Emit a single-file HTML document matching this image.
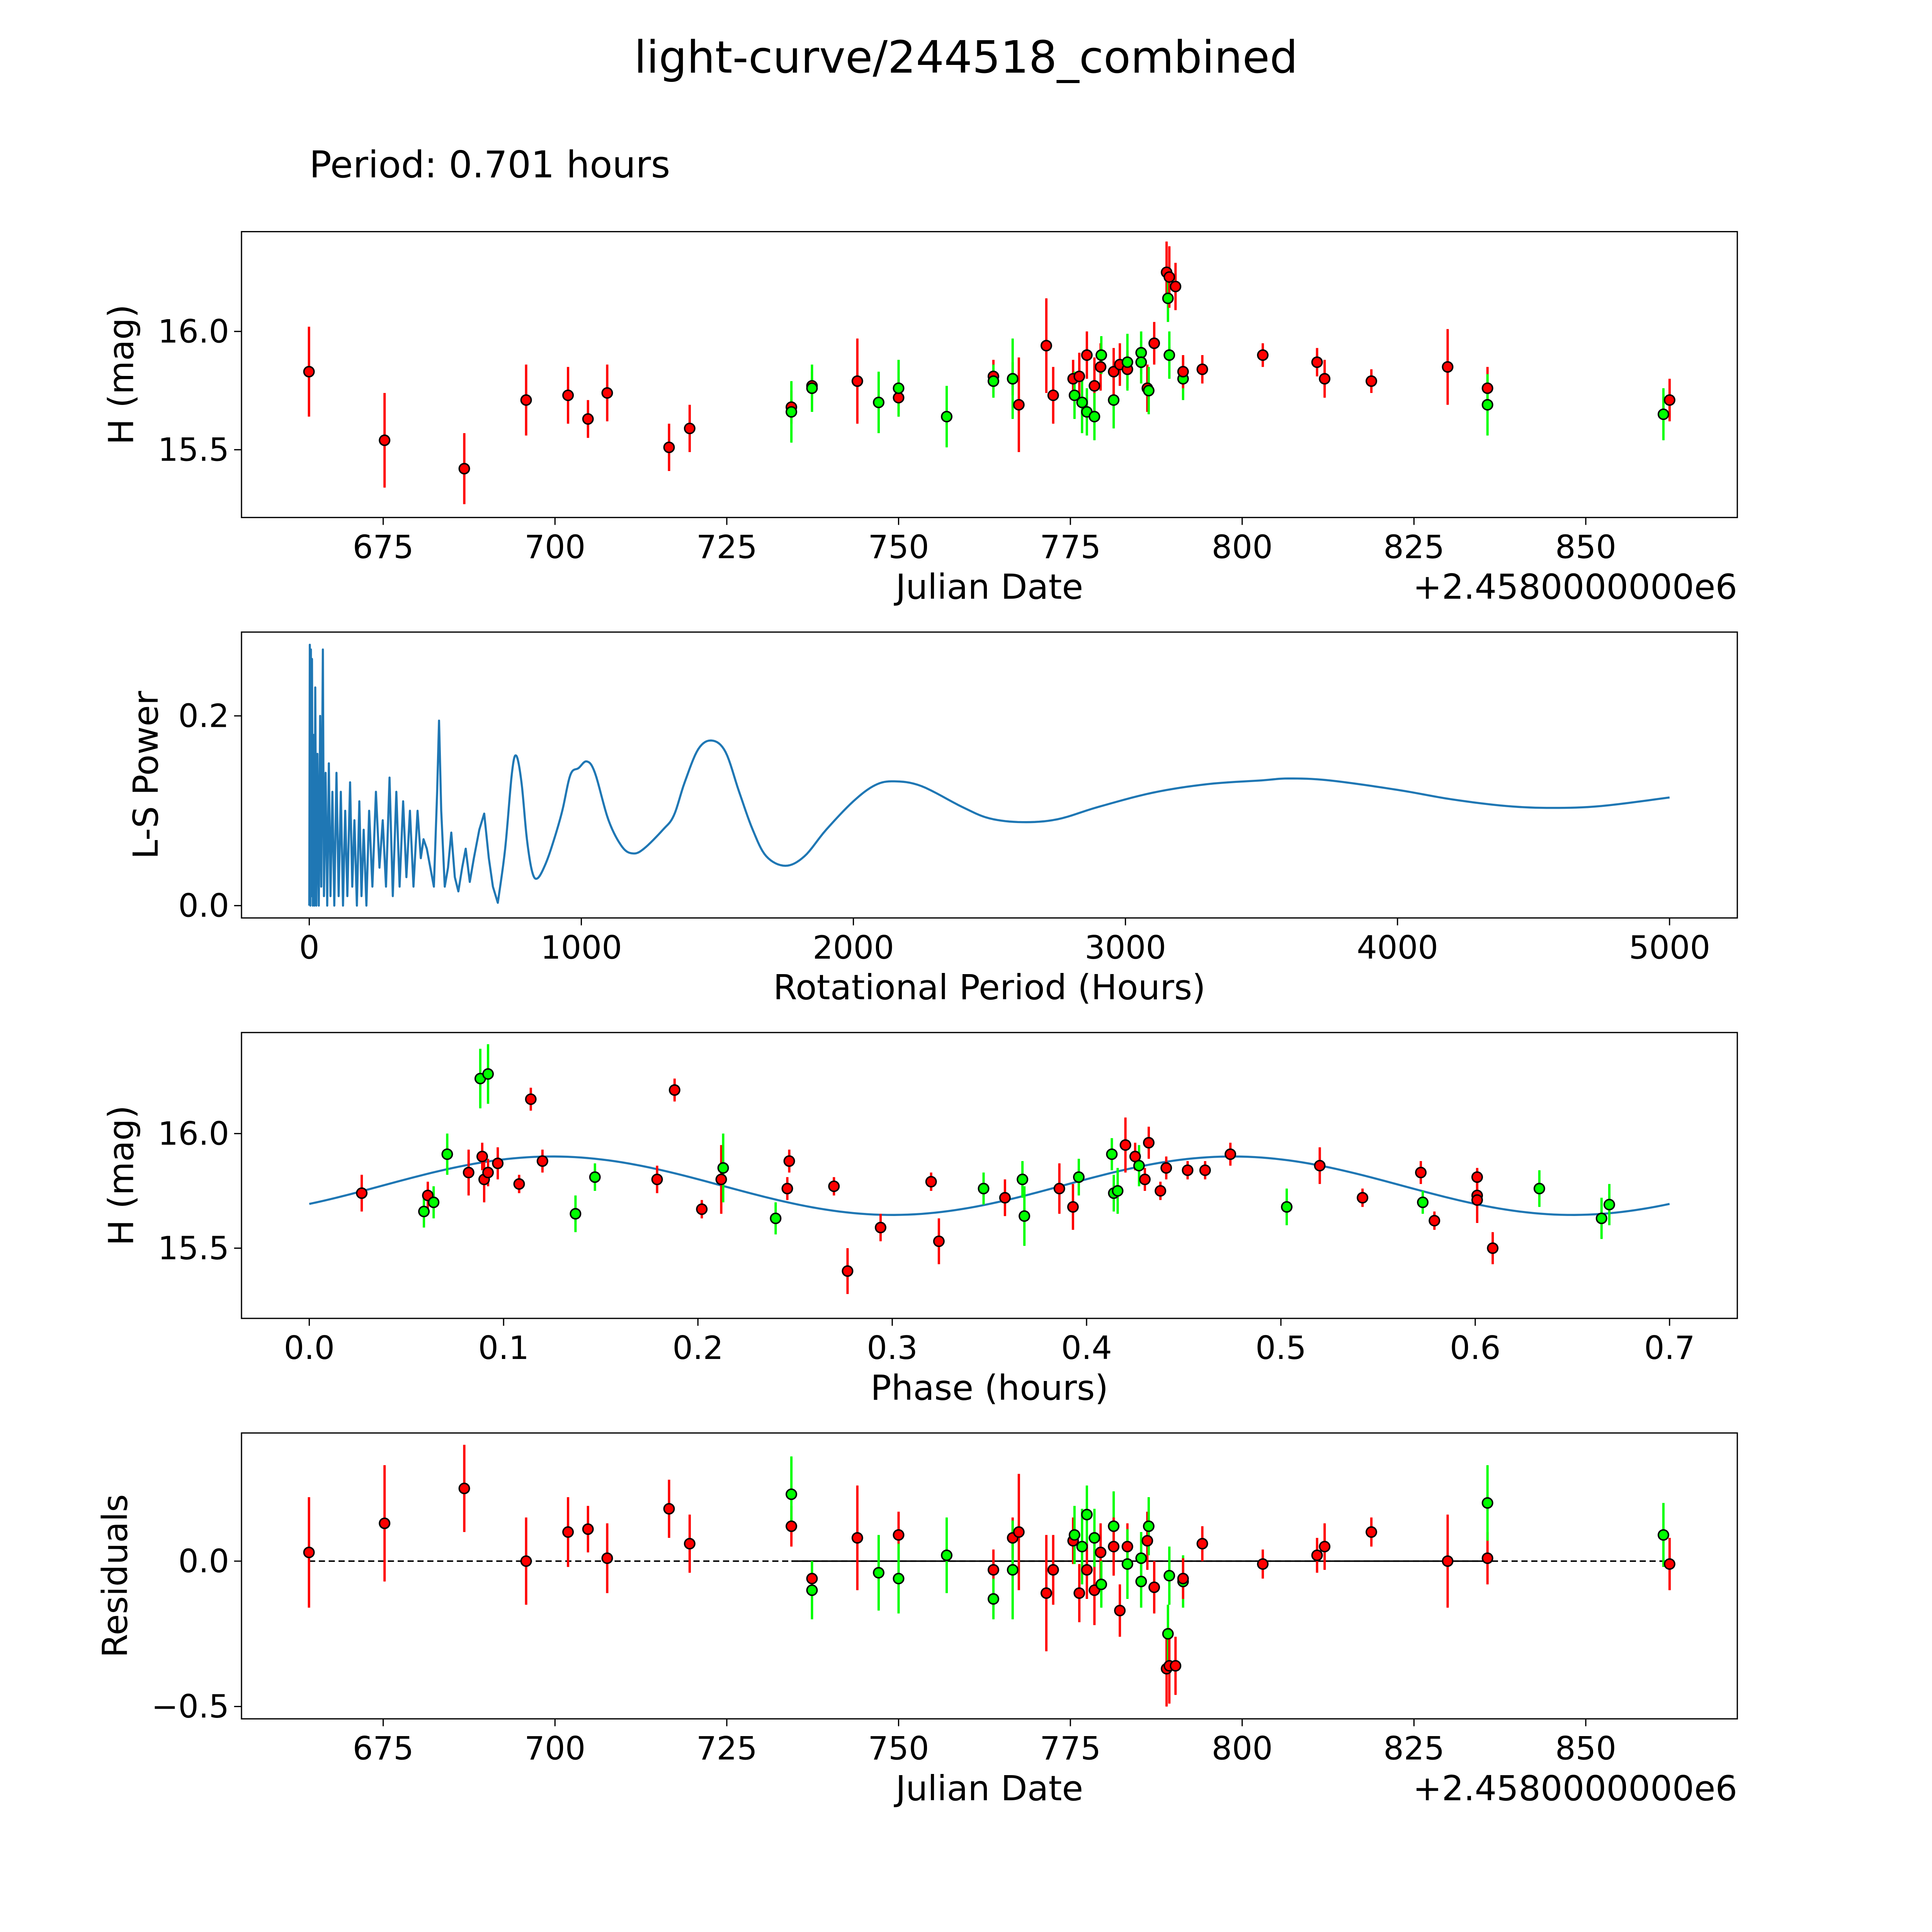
<!DOCTYPE html>
<html><head><meta charset="utf-8"><style>
html,body{margin:0;padding:0;background:#fff;overflow:hidden;width:100%;height:100%}
svg{display:block;width:100vw;height:100vh}
text{font-family:"DejaVu Sans","Liberation Sans",sans-serif;fill:#000}
</style></head><body>
<svg id="fig" xmlns="http://www.w3.org/2000/svg" viewBox="0 0 1568 1568" preserveAspectRatio="none">
<rect width="1568" height="1568" fill="#fff"/>
<text x="784" y="59" font-size="36" text-anchor="middle">light-curve/244518_combined</text>
<text x="251" y="144" font-size="30">Period: 0.701 hours</text>
<g id="g1"></g>
<g id="g2"></g>
<g id="g3"></g>
<g id="g4"></g>
</svg>
<script>
// ---- observation data ----
const dates=[664.2,675.2,686.8,695.8,701.9,704.8,707.6,716.6,719.6,734.4,734.4,737.4,737.4,744.0,747.1,750.0,750.0,757.0,763.8,763.8,766.6,766.6,767.5,771.5,772.5,775.4,775.6,776.3,776.7,777.4,777.4,778.5,778.5,779.4,779.5,781.3,781.3,782.2,783.3,783.3,785.3,785.3,786.2,786.4,787.2,789.0,789.2,789.4,789.4,790.3,791.4,791.4,794.2,803.0,810.9,812.0,818.8,829.9,835.7,835.7,861.3,862.2];
const mags=[15.83,15.54,15.42,15.71,15.73,15.63,15.74,15.51,15.59,15.68,15.66,15.77,15.76,15.79,15.70,15.72,15.76,15.64,15.81,15.79,15.80,15.80,15.69,15.94,15.73,15.80,15.73,15.81,15.70,15.90,15.66,15.77,15.64,15.85,15.90,15.71,15.83,15.86,15.84,15.87,15.91,15.87,15.76,15.75,15.95,16.25,16.14,16.23,15.90,16.19,15.80,15.83,15.84,15.90,15.87,15.80,15.79,15.85,15.76,15.69,15.65,15.71];
const errs=[.19,.20,.15,.15,.12,.08,.12,.10,.10,.07,.13,.06,.10,.18,.13,.08,.12,.13,.07,.07,.07,.17,.20,.20,.12,.08,.10,.10,.13,.10,.10,.12,.10,.10,.08,.12,.10,.09,.08,.12,.09,.09,.10,.10,.09,.13,.10,.13,.10,.10,.09,.07,.06,.05,.06,.08,.05,.16,.09,.13,.11,.09];
const colors="rrrrrrrrrrgrgrgrggrgrgrrrrgrgrgrgrggrrrgggrgrrgrgrgrrrrrrrrggr";
const resids=[.03,.13,.25,0,.10,.11,.01,.18,.06,.12,.23,-.06,-.10,.08,-.04,.09,-.06,.02,-.03,-.13,.08,-.03,.10,-.11,-.03,.07,.09,-.11,.05,-.03,.16,-.10,.08,.03,-.08,.12,.05,-.17,.05,-.01,-.07,.01,.07,.12,-.09,-.37,-.25,-.36,-.05,-.36,-.07,-.06,.06,-.01,.02,.05,.10,0,.01,.20,.09,-.01];
// ---- phase-folded data ----
const phases=[.027,.059,.061,.064,.071,.082,.088,.089,.090,.092,.092,.097,.108,.114,.120,.137,.147,.179,.188,.202,.212,.213,.240,.246,.247,.270,.277,.294,.320,.324,.347,.358,.367,.368,.386,.393,.396,.413,.414,.416,.420,.425,.427,.430,.432,.438,.441,.452,.461,.474,.503,.520,.542,.572,.573,.579,.601,.601,.601,.609,.633,.665,.669];
const phaseMags=[15.74,15.66,15.73,15.70,15.91,15.83,16.24,15.90,15.80,15.83,16.26,15.87,15.78,16.15,15.88,15.65,15.81,15.80,16.19,15.67,15.80,15.85,15.63,15.76,15.88,15.77,15.40,15.59,15.79,15.53,15.76,15.72,15.80,15.64,15.76,15.68,15.81,15.91,15.74,15.75,15.95,15.90,15.86,15.80,15.96,15.75,15.85,15.84,15.84,15.91,15.68,15.86,15.72,15.83,15.70,15.62,15.81,15.73,15.71,15.50,15.76,15.63,15.69];
const phaseErrs=[.08,.07,.06,.07,.09,.10,.13,.06,.10,.06,.13,.07,.04,.05,.05,.08,.06,.06,.05,.04,.15,.15,.07,.05,.05,.04,.10,.06,.04,.10,.07,.08,.08,.13,.11,.10,.08,.07,.08,.10,.12,.06,.09,.05,.07,.04,.05,.04,.04,.05,.08,.08,.04,.05,.05,.04,.04,.05,.10,.07,.08,.09,.09];
const phaseColors="rgrggrgrrrgrrrrggrrrrggrrrrrrrgrggrrggggrrgrrrrrrrgrrrgrrrrrggg";
const modelCoef=[15.7725,0.1275,0.35,0.0375]; // mean, amplitude, period(phase units), phase offset
// ---- periodogram ----
const lsPeriodsShort=[0,2,4,6,8,10,13,16,19,22,26,30,35,40,44,50,54,60,66,72,78,85,92,100,108,116,124,132,140,150,158,166,175,184,192,200,210,220,232,245,258,270,282,295,307,320,332,345,357,370,383,398,410,420,432,445,458,470,477,485,498,510,522,535,548,562,575,590,605,625,643,660,675,693];
const lsPowerShort=[0,.275,0,.27,.01,.26,0,.18,0,.23,0,.16,0,.2,.02,.27,.01,.14,0,.15,.01,.12,0,.14,.01,.12,0,.1,.01,.13,.02,.09,0,.11,.01,.08,0,.1,.02,.12,.04,.09,.02,.135,.01,.12,.02,.11,.03,.1,.02,.1,.05,.07,.06,.04,.02,.12,.195,.1,.02,.04,.077,.03,.015,.04,.06,.025,.05,.08,.097,.05,.02,.003];
const lsPeriodsLong=[693,720,745,761,780,800,820,840,870,900,930,960,990,1020,1050,1100,1150,1190,1230,1300,1340,1380,1430,1480,1530,1580,1630,1680,1750,1820,1900,2000,2080,2150,2250,2400,2500,2620,2750,2900,3100,3300,3500,3600,3750,4000,4200,4400,4570,4750,5000];
const lsPowerLong=[.003,.06,.14,.158,.13,.07,.035,.029,.045,.07,.10,.138,.145,.152,.14,.09,.062,.055,.06,.08,.095,.13,.165,.174,.162,.12,.08,.052,.042,.052,.08,.11,.127,.131,.126,.104,.092,.088,.091,.104,.119,.128,.132,.134,.132,.122,.112,.105,.103,.105,.114];
// ---- ticks ----
const dateTicks=[675,700,725,750,775,800,825,850];
const magTicks=[16.0,15.5];
const perTicks=[0,1000,2000,3000,4000,5000];
const powTicks=[0.0,0.2];
const phTicks=[0.0,0.1,0.2,0.3,0.4,0.5,0.6,0.7];
const resTicks=[0.0,-0.5];

const NS="http://www.w3.org/2000/svg";
function mk(parent,tag,attrs,txt){const e=document.createElementNS(NS,tag);for(const k in attrs)e.setAttribute(k,attrs[k]);if(txt!==undefined)e.textContent=txt;parent.appendChild(e);return e;}
function lin(d0,d1,p0,p1){return v=>p0+(v-d0)*(p1-p0)/(d1-d0);}
const L=196,R=1410;
const xDate=lin(675,850,311,1287);
const xPer=lin(0,5000,251,1355);
const xPh=lin(0,0.7,251,1355);
const y1=lin(16.0,15.5,269,365);
const y2=lin(0,0.2,735,581);
const y3=lin(16.0,15.5,920,1013);
const y4=lin(0,-0.5,1267,1385);
const COL={r:"#ff0000",g:"#00ff00"};

function frame(g,top,bot,xt,xs,xfmt,yt,ys,yfmt,xlabel,ylabel,ylx,offset){
  mk(g,'rect',{x:L,y:top,width:R-L,height:bot-top,fill:'none',stroke:'#000','stroke-width':1});
  xt.forEach(v=>{const x=xs(v);
    const t=mk(g,'line',{x1:x,x2:x,y1:bot,y2:bot+6,stroke:'#000','stroke-width':1});
    
    const l=mk(g,'text',{x:x,y:bot+33,'font-size':26,'text-anchor':'middle'},xfmt(v));
    });
  yt.forEach(v=>{const y=ys(v);
    const t=mk(g,'line',{x1:L-6,x2:L,y1:y,y2:y,stroke:'#000','stroke-width':1});
    
    const l=mk(g,'text',{x:L-10,y:y+9,'font-size':26,'text-anchor':'end'},yfmt(v));
    });
  const xl=mk(g,'text',{x:803,y:bot+66,'font-size':28,'text-anchor':'middle'},xlabel);
  
  const cy=(top+bot)/2;
  const yl=mk(g,'text',{x:ylx,y:cy,'font-size':28,'text-anchor':'middle',transform:`rotate(-90 ${ylx} ${cy})`},ylabel);
  
  if(offset){const o=mk(g,'text',{x:R,y:bot+66,'font-size':28,'text-anchor':'end'},'+2.4580000000e6');
    }
}
function points(g,xs,ys,xv,yv,ev,cv,name){
  const eg=mk(g,'g',{});
  for(let i=0;i<xv.length;i++){const x=xs(xv[i]);
    const b=mk(eg,'line',{x1:x,x2:x,y1:ys(yv[i]-ev[i]),y2:ys(yv[i]+ev[i]),stroke:COL[cv[i]],'stroke-width':1.9});
    }
  for(let i=0;i<xv.length;i++){
    const c=mk(g,'circle',{cx:xs(xv[i]),cy:ys(yv[i]),r:4.1,fill:COL[cv[i]],stroke:'#000','stroke-width':1.2});
    }
}
const f1=v=>v.toFixed(1), f0=v=>String(v), fneg=v=>(v<0?'\u2212'+Math.abs(v).toFixed(1):v.toFixed(1));

// Panel 1
const g1=document.getElementById('g1');
frame(g1,188,420,dateTicks,xDate,f0,magTicks,y1,f1,'Julian Date','H (mag)',108,true);
points(g1,xDate,y1,dates,mags,errs,colors,'observation-point');

// Panel 2
const g2=document.getElementById('g2');
frame(g2,513,745,perTicks,xPer,f0,powTicks,y2,f1,'Rotational Period (Hours)','L-S Power',128,false);
(function(){
  let d='';
  for(let i=0;i<lsPeriodsShort.length;i++){d+=(i?'L':'M')+xPer(lsPeriodsShort[i]).toFixed(2)+' '+y2(lsPowerShort[i]).toFixed(2);}
  const P=lsPeriodsLong,W=lsPowerLong,n=P.length;
  for(let i=0;i<n-1;i++){
    const p0=[P[Math.max(i-1,0)],W[Math.max(i-1,0)]],p1=[P[i],W[i]],p2=[P[i+1],W[i+1]],p3=[P[Math.min(i+2,n-1)],W[Math.min(i+2,n-1)]];
    for(let s=0;s<=8;s++){const t=s/8,t2=t*t,t3=t2*t;
      const c=(a,b,c_,e)=>0.5*((2*b)+(-a+c_)*t+(2*a-5*b+4*c_-e)*t2+(-a+3*b-3*c_+e)*t3);
      d+='L'+xPer(c(p0[0],p1[0],p2[0],p3[0])).toFixed(2)+' '+y2(c(p0[1],p1[1],p2[1],p3[1])).toFixed(2);}
  }
  const p=mk(g2,'path',{d:d,fill:'none',stroke:'#1f77b4','stroke-width':1.7,'stroke-linejoin':'round'});
  
})();

// Panel 3
const g3=document.getElementById('g3');
frame(g3,838,1070,phTicks,xPh,f1,magTicks,y3,f1,'Phase (hours)','H (mag)',108,false);
(function(){
  let d='';
  for(let i=0;i<=200;i++){const ph=0.7*i/200;
    const m=modelCoef[0]+modelCoef[1]*Math.sin(2*Math.PI*(ph-modelCoef[3])/modelCoef[2]);
    d+=(i?'L':'M')+xPh(ph).toFixed(2)+' '+y3(m).toFixed(2);}
  const p=mk(g3,'path',{d:d,fill:'none',stroke:'#1f77b4','stroke-width':1.7});
  
})();
points(g3,xPh,y3,phases,phaseMags,phaseErrs,phaseColors,'phase-point');

// Panel 4
const g4=document.getElementById('g4');
frame(g4,1163,1395,dateTicks,xDate,f0,resTicks,y4,fneg,'Julian Date','Residuals',103,true);
(function(){
  const dl=mk(g4,'line',{x1:xDate(dates[0]),x2:xDate(dates[dates.length-1]),y1:y4(0),y2:y4(0),stroke:'#000','stroke-width':1.2,'stroke-dasharray':'5 3'});
  
  const sl=mk(g4,'line',{x1:xDate(734.4),x2:xDate(835.7),y1:y4(0),y2:y4(0),stroke:'#000','stroke-width':1.2});
  
})();
points(g4,xDate,y4,dates,resids,errs,colors,'residual-point');
</script>
</body></html>
